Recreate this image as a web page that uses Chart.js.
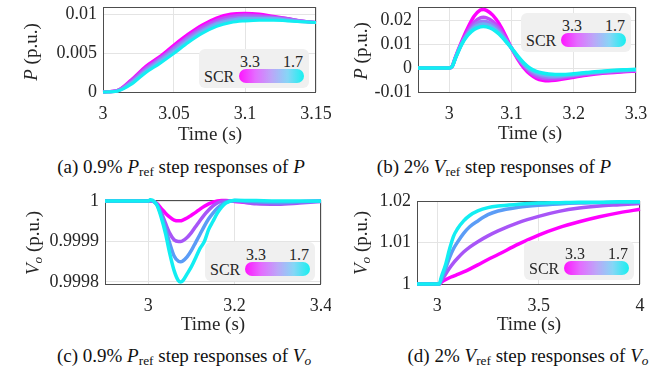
<!DOCTYPE html>
<html><head><meta charset="utf-8">
<script src="https://cdn.jsdelivr.net/npm/chart.js@4.4.1/dist/chart.umd.min.js"></script>
<style>
html,body{margin:0;padding:0;background:#fff;}
body{width:663px;height:375px;overflow:hidden;position:relative;color:#262626;}
canvas{position:absolute;}
.yl{position:absolute;transform:translate(-50%,-50%) rotate(-90deg);white-space:nowrap;font-size:19px;line-height:1;}
.xl{position:absolute;transform:translate(-50%,-50%);white-space:nowrap;font-size:19px;line-height:1;}
.cap{position:absolute;transform:translate(-50%,-50%);white-space:nowrap;font-size:19px;line-height:1;color:#111;}
sub{font-size:70%;vertical-align:-0.25em;line-height:0;}
.leg{position:absolute;width:110px;height:39px;background:#f0f0f0;border-radius:6px;font-size:16px;line-height:1;}
.leg span{position:absolute;white-space:nowrap;}
.leg .n1{left:51px;top:13px;transform:translate(-50%,-50%);}
.leg .n2{left:94px;top:13px;transform:translate(-50%,-50%);}
.leg .scr{left:5px;top:28px;transform:translate(0,-50%);}
.leg .bar{position:absolute;left:40px;top:20px;width:65px;height:14px;border-radius:7px;
 background:linear-gradient(to right,#ff14ff 0%,#e46cff 25%,#bca6f8 50%,#86d6f6 75%,#16f0f0 100%);}
</style></head><body>
<canvas id="ca" width="331" height="140" style="left:0;top:0"></canvas>
<canvas id="cb" width="332" height="140" style="left:331px;top:0"></canvas>
<canvas id="cc" width="331" height="140" style="left:0;top:188px"></canvas>
<canvas id="cd" width="332" height="140" style="left:331px;top:188px"></canvas>

<div style="font-family:'Liberation Serif','Times New Roman'">
<div class="yl" style="left:30px;top:52px"><i>P</i> (p.u.)</div>
<div class="yl" style="left:360px;top:51px"><i>P</i> (p.u.)</div>
<div class="yl" style="left:32px;top:243px"><i>V<sub>o</sub></i> (p.u.)</div>
<div class="yl" style="left:360px;top:243px"><i>V<sub>o</sub></i> (p.u.)</div>

<div class="xl" style="left:210px;top:133px">Time (s)</div>
<div class="xl" style="left:530px;top:132px">Time (s)</div>
<div class="xl" style="left:213px;top:323px">Time (s)</div>
<div class="xl" style="left:529px;top:323px">Time (s)</div>

<div class="cap" style="left:181px;top:166px">(a) 0.9% <i>P</i><sub>ref</sub> step responses of <i>P</i></div>
<div class="cap" style="left:494px;top:166px">(b) 2% <i>V</i><sub>ref</sub> step responses of <i>P</i></div>
<div class="cap" style="left:184px;top:355px">(c) 0.9% <i>P</i><sub>ref</sub> step responses of <i>V<sub>o</sub></i></div>
<div class="cap" style="left:528px;top:355px">(d) 2% <i>V</i><sub>ref</sub> step responses of <i>V<sub>o</sub></i></div>

<div class="leg" style="left:199px;top:49px"><span class="n1">3.3</span><span class="n2">1.7</span><span class="scr">SCR</span><div class="bar"></div></div>
<div class="leg" style="left:521px;top:13px"><span class="n1">3.3</span><span class="n2">1.7</span><span class="scr">SCR</span><div class="bar"></div></div>
<div class="leg" style="left:205px;top:242px"><span class="n1">3.3</span><span class="n2">1.7</span><span class="scr">SCR</span><div class="bar"></div></div>
<div class="leg" style="left:524px;top:241px"><span class="n1">3.3</span><span class="n2">1.7</span><span class="scr">SCR</span><div class="bar"></div></div>
</div>

<script>
// ---------- (a) 0.9% Pref step, P ----------
const aTime   = [3.00, 3.01, 3.02, 3.03, 3.04, 3.05, 3.06, 3.07, 3.08, 3.09, 3.10, 3.11, 3.12, 3.13, 3.14, 3.15];
const aSCR33  = [0, 0.0002, 0.0016, 0.0033, 0.0046, 0.0061, 0.0075, 0.0087, 0.0096, 0.0101, 0.0102, 0.0101, 0.0098, 0.0095, 0.0092, 0.0090];
const aSCR29  = [0, 0.0002, 0.0015, 0.0031, 0.0044, 0.0058, 0.0072, 0.0084, 0.0093, 0.0098, 0.0100, 0.0099, 0.0097, 0.0095, 0.0092, 0.0090];
const aSCR25  = [0, 0.0002, 0.0013, 0.0029, 0.0042, 0.0056, 0.0070, 0.0081, 0.0090, 0.0095, 0.0097, 0.0097, 0.0096, 0.0094, 0.0092, 0.0090];
const aSCR21  = [0, 0.0001, 0.0012, 0.0027, 0.0040, 0.0053, 0.0067, 0.0079, 0.0088, 0.0093, 0.0095, 0.0095, 0.0095, 0.0093, 0.0091, 0.0090];
const aSCR17  = [0, 0.0001, 0.0010, 0.0025, 0.0037, 0.0050, 0.0064, 0.0076, 0.0085, 0.0090, 0.0092, 0.0093, 0.0093, 0.0092, 0.0091, 0.0090];
const aXTicks = [3, 3.05, 3.1, 3.15];
const aXLabels = ['3', '3.05', '3.1', '3.15'];
const aYTicks = [0, 0.005, 0.01];
const aYLabels = ['0', '0.005', '0.01'];

// ---------- (b) 2% Vref step, P ----------
const bTime   = [2.95, 3.00, 3.005, 3.01, 3.02, 3.03, 3.04, 3.05, 3.055, 3.06, 3.07, 3.08, 3.09, 3.10, 3.11, 3.12, 3.13, 3.14, 3.15, 3.16, 3.17, 3.18, 3.20, 3.22, 3.25, 3.28, 3.30];
const bSCR33  = [0, 0, 0.0008, 0.0045, 0.0110, 0.0168, 0.0216, 0.0242, 0.0245, 0.0241, 0.0221, 0.0186, 0.0138, 0.0084, 0.0038, 0.0001, -0.0026, -0.0043, -0.0051, -0.0053, -0.0051, -0.0047, -0.0038, -0.0030, -0.0021, -0.0015, -0.0013];
const bSCR25  = [0, 0, 0.0008, 0.0043, 0.0105, 0.0155, 0.0192, 0.0210, 0.0212, 0.0210, 0.0195, 0.0168, 0.0129, 0.0084, 0.0042, 0.0008, -0.0018, -0.0035, -0.0043, -0.0046, -0.0045, -0.0042, -0.0034, -0.0026, -0.0019, -0.0013, -0.0011];
const bSCR21  = [0, 0, 0.0007, 0.0042, 0.0102, 0.0147, 0.0179, 0.0194, 0.0196, 0.0194, 0.0181, 0.0157, 0.0122, 0.0084, 0.0045, 0.0013, -0.0011, -0.0027, -0.0035, -0.0038, -0.0038, -0.0036, -0.0030, -0.0024, -0.0016, -0.0011, -0.0009];
const bSCR19  = [0, 0, 0.0007, 0.0041, 0.0100, 0.0142, 0.0170, 0.0182, 0.0184, 0.0182, 0.0171, 0.0149, 0.0118, 0.0084, 0.0048, 0.0017, -0.0006, -0.0020, -0.0028, -0.0032, -0.0033, -0.0032, -0.0027, -0.0021, -0.0014, -0.0009, -0.0007];
const bSCR17  = [0, 0, 0.0007, 0.0040, 0.0098, 0.0137, 0.0161, 0.0172, 0.0174, 0.0172, 0.0162, 0.0142, 0.0114, 0.0084, 0.0051, 0.0021, -0.0001, -0.0014, -0.0021, -0.0025, -0.0027, -0.0027, -0.0024, -0.0019, -0.0012, -0.0007, -0.0005];
const bXTicks = [3, 3.1, 3.2, 3.3];
const bXLabels = ['3', '3.1', '3.2', '3.3'];
const bYTicks = [-0.01, 0, 0.01, 0.02];
const bYLabels = ['-0.01', '0', '0.01', '0.02'];

// ---------- (c) 0.9% Pref step, Vo ----------
const cTime   = [2.90, 3.00, 3.005, 3.01, 3.02, 3.03, 3.04, 3.05, 3.06, 3.07, 3.075, 3.08, 3.09, 3.10, 3.11, 3.12, 3.13, 3.14, 3.15, 3.16, 3.17, 3.18, 3.20, 3.25, 3.30, 3.35, 3.40];
const cSCR33  = [1, 1, 1.0, 1.0, 0.999994, 0.999982, 0.99997, 0.99996, 0.999953, 0.999951, 0.999951, 0.999953, 0.999958, 0.999965, 0.999972, 0.99998, 0.999987, 0.999993, 0.999997, 1.0, 1.000001, 1.000001, 0.999999, 0.999995, 0.999995, 0.999998, 1.0];
const cSCR25  = [1, 1, 1.0, 1.0, 0.999992, 0.999972, 0.999945, 0.99992, 0.999904, 0.9999, 0.9999, 0.999902, 0.99991, 0.999922, 0.999937, 0.999952, 0.999966, 0.999978, 0.999988, 0.999995, 0.999999, 1.0, 1.0, 0.999993, 0.999992, 0.999995, 0.999999];
const cSCR20  = [1, 1, 1.000001, 1.0, 0.999992, 0.999966, 0.999933, 0.999895, 0.999864, 0.999851, 0.99985, 0.999852, 0.999862, 0.999878, 0.999898, 0.999918, 0.999938, 0.999956, 0.99997, 0.999982, 0.999991, 0.999997, 1.000001, 0.999998, 0.999996, 0.999998, 1.0];
const cSCR17  = [1, 1, 1.000003, 1.000002, 0.99999, 0.99996, 0.99992, 0.99987, 0.999828, 0.999803, 0.9998, 0.999803, 0.99982, 0.999838, 0.99986, 0.999883, 0.9999, 0.99993, 0.99995, 0.99997, 0.999985, 0.999995, 1.000002, 1.000001, 1.0, 1.0, 1.0];
const cXTicks = [3, 3.2, 3.4];
const cXLabels = ['3', '3.2', '3.4'];
const cYTicks = [0.9998, 0.9999, 1];
const cYLabels = ['0.9998', '0.9999', '1'];

// ---------- (d) 2% Vref step, Vo ----------
const dTime   = [2.90, 3.00, 3.01, 3.02, 3.04, 3.06, 3.08, 3.10, 3.13, 3.16, 3.20, 3.25, 3.30, 3.40, 3.50, 3.60, 3.70, 3.80, 3.90, 4.00];
const dSCR33  = [1, 1, 1.0, 1.0004, 1.0010, 1.0015, 1.0019, 1.0023, 1.0029, 1.0036, 1.0046, 1.0059, 1.0071, 1.0096, 1.0118, 1.0136, 1.0150, 1.0162, 1.0172, 1.0180];
const dSCR25  = [1, 1, 1.0, 1.0007, 1.0023, 1.0038, 1.0051, 1.0062, 1.0077, 1.0089, 1.0102, 1.0116, 1.0128, 1.0148, 1.0163, 1.0175, 1.0183, 1.0188, 1.0191, 1.0194];
const dSCR20  = [1, 1, 1.0, 1.0012, 1.0036, 1.0063, 1.0085, 1.0101, 1.0122, 1.0138, 1.0152, 1.0167, 1.0176, 1.0185, 1.0190, 1.0193, 1.0195, 1.0196, 1.0197, 1.0197];
const dSCR17  = [1, 1, 1.0, 1.0017, 1.0045, 1.0083, 1.0115, 1.0133, 1.0152, 1.0165, 1.0176, 1.0184, 1.0188, 1.0192, 1.0195, 1.0196, 1.0197, 1.0197, 1.0198, 1.0198];
const dXTicks = [3, 3.5, 4];
const dXLabels = ['3', '3.5', '4'];
const dYTicks = [1, 1.01, 1.02];
const dYLabels = ['1', '1.01', '1.02'];

// line colours, SCR 3.3 (magenta) -> 1.7 (cyan)
const colors5 = ['#ff00ff', '#c04cf8', '#9a7cf6', '#6fb0f4', '#12eef2'];
const colors4 = ['#ff00ff', '#a855f7', '#5b9cf6', '#12eef2'];

const SERIF = "'Liberation Serif','Times New Roman'";

const boxPlugin = {
  id: 'box',
  beforeDatasetsDraw(chart) {
    const { ctx, chartArea: a } = chart;
    ctx.save();
    ctx.strokeStyle = '#4d4d4d';
    ctx.lineWidth = 1;
    ctx.strokeRect(a.left + 0.5, a.top + 0.5, a.right - a.left - 1, a.bottom - a.top);
    ctx.restore();
  }
};

function makeChart(id, s) {
  const n = s.series.length;
  const datasets = s.series.map((ys, i) => ({
    data: s.time.map((x, k) => ({ x: x, y: ys[k] })),
    borderColor: s.colors[i],
    borderWidth: s.lw,
    pointRadius: 0,
    fill: false,
    cubicInterpolationMode: 'monotone',
    order: n - i,
    clip: 3
  }));
  const zeroPad = sc => { sc.paddingTop = 0; sc.paddingBottom = 0; sc.paddingLeft = 0; sc.paddingRight = 0; };
  const tickFont = { family: SERIF, size: 18 };
  new Chart(document.getElementById(id), {
    type: 'line',
    data: { datasets },
    plugins: [boxPlugin],
    options: {
      responsive: false, animation: false, devicePixelRatio: 1,
      layout: { padding: { left: 0, top: s.top, right: s.right, bottom: 0 } },
      plugins: { legend: { display: false }, tooltip: { enabled: false } },
      scales: {
        x: {
          type: 'linear', min: s.xmin, max: s.xmax,
          afterBuildTicks: sc => { sc.ticks = s.xticks.map(v => ({ value: v })); },
          afterFit: sc => { sc.height = s.xH; zeroPad(sc); },
          ticks: { callback: (v, i) => s.xlabels[i], font: tickFont, color: '#262626', padding: 11, maxRotation: 0, autoSkip: false },
          grid: { color: '#e4e4e4', drawTicks: false, lineWidth: 1 },
          border: { display: false }
        },
        y: {
          type: 'linear', min: s.ymin, max: s.ymax,
          afterBuildTicks: sc => { sc.ticks = s.yticks.map(v => ({ value: v })); },
          afterFit: sc => { sc.width = s.yW; zeroPad(sc); },
          ticks: { callback: (v, i) => s.ylabels[i], font: tickFont, color: '#262626', padding: 6, autoSkip: false },
          grid: { color: '#e4e4e4', drawTicks: false, lineWidth: 1 },
          border: { display: false }
        }
      }
    }
  });
}

Chart.defaults.font.family = SERIF;

makeChart('ca', { time: aTime, series: [aSCR33, aSCR29, aSCR25, aSCR21, aSCR17], colors: colors5, lw: 3,
  xmin: 3, xmax: 3.15, ymin: 0, ymax: 0.011, xticks: aXTicks, xlabels: aXLabels, yticks: aYTicks, ylabels: aYLabels,
  top: 7, right: 15, yW: 103, xH: 48 });
makeChart('cb', { time: bTime, series: [bSCR33, bSCR25, bSCR21, bSCR19, bSCR17], colors: colors5, lw: 3.5,
  xmin: 2.95, xmax: 3.3, ymin: -0.01, ymax: 0.0255, xticks: bXTicks, xlabels: bXLabels, yticks: bYTicks, ylabels: bYLabels,
  top: 7, right: 27, yW: 87, xH: 48 });
makeChart('cc', { time: cTime, series: [cSCR33, cSCR25, cSCR20, cSCR17], colors: colors4, lw: 3.5,
  xmin: 2.9, xmax: 3.4, ymin: 0.999795, ymax: 1.0000025, xticks: cXTicks, xlabels: cXLabels, yticks: cYTicks, ylabels: cYLabels,
  top: 12, right: 10, yW: 105, xH: 44 });
makeChart('cd', { time: dTime, series: [dSCR33, dSCR25, dSCR20, dSCR17], colors: colors4, lw: 3.5,
  xmin: 2.9, xmax: 4, ymin: 1, ymax: 1.02, xticks: dXTicks, xlabels: dXLabels, yticks: dYTicks, ylabels: dYLabels,
  top: 13, right: 23, yW: 86, xH: 44 });
</script>
</body></html>
